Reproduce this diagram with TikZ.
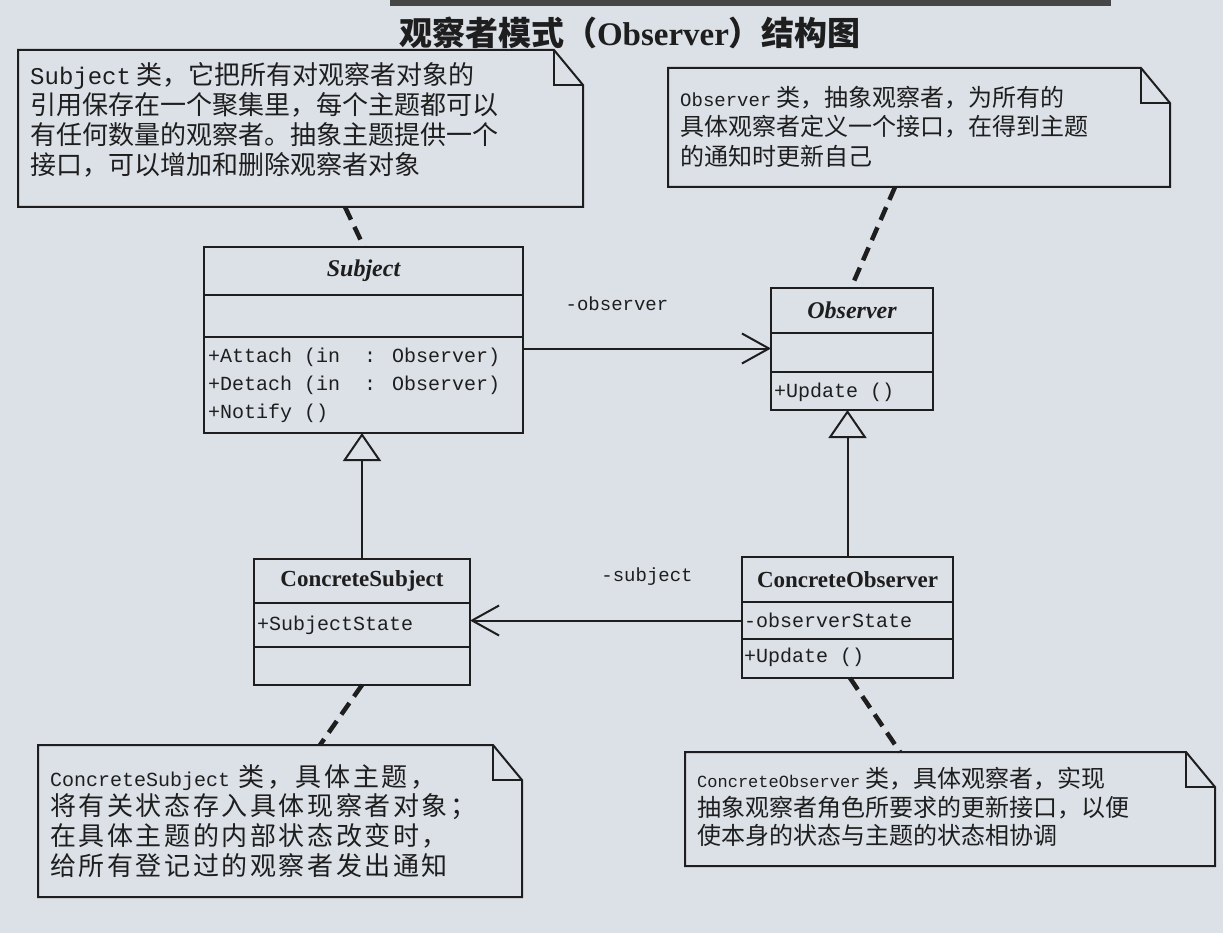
\documentclass[tikz,border=0pt]{standalone}
\usepackage{fontspec}
\setmainfont{Liberation Serif}
\newfontfamily\cjk{Noto Sans CJK SC}
\newfontfamily\cjksp{Noto Sans CJK SC}[LetterSpace=10]
\newfontfamily\mono{Liberation Mono}
\usetikzlibrary{arrows.meta,calc}
\definecolor{paper}{HTML}{DCE1E8}
\definecolor{ink}{HTML}{1E1E1E}
\newcommand\setfs[1]{\fontsize{#1}{#1}\selectfont}
\newcommand\notefold[1]{%
  \draw[noteline] (#1.north west) -- ($(#1.north east)+(-29,0)$) -- ($(#1.north east)+(0,35)$)
     -- (#1.south east) -- (#1.south west) -- cycle;
  \draw[noteline] ($(#1.north east)+(-29,0)$) -- ($(#1.north east)+(-29,35)$) -- ($(#1.north east)+(0,35)$);}
\begin{document}
\begin{tikzpicture}[x=1pt,y=-1pt,
  cbox/.style={draw=ink, line width=2.2pt, rectangle, inner sep=0pt, outer sep=0pt, anchor=north west},
  member/.style={anchor=west, inner sep=0pt, font={\mono\setfs{20}}, text=ink},
  cname/.style={font={\setfs{23}\bfseries}, text=ink},
  aname/.style={font={\setfs{24}\bfseries\itshape}, text=ink},
  notebody/.style={inner sep=0pt, outer sep=0pt, anchor=north west},
  noteline/.style={draw=ink, line width=2pt, line join=miter},
  notetext/.style={anchor=north west, inner sep=0pt, align=left, text=ink},
  dashl/.style={draw=ink, line width=4.5pt, dash pattern=on 14pt off 8pt},
  assoc/.style={draw=ink, line width=2pt, -{Straight Barb[length=27pt,width=30pt]}},
  gen/.style={draw=ink, line width=2pt, -{Triangle[open,length=28pt,width=38pt,fill=paper]}},
  lbl/.style={font={\mono\setfs{19}}, text=ink, inner sep=0pt}
]
\fill[paper] (0,0) rectangle (1223,933);
\useasboundingbox (0,0) rectangle (1223,933);
\fill[gray!55!black] (390,0) rectangle (1111,6);

% title
\node[text=ink] (title) at (630,33) {\cjk\bfseries\setfs{33}观察者模式（{\rmfamily\bfseries Observer}）结构图};

% Subject
\node[cbox, aname, minimum width=319pt, minimum height=48pt] (subjN) at (204,247) {Subject};
\node[cbox, minimum width=319pt, minimum height=42pt] (subjA) at (subjN.south west) {};
\node[cbox, minimum width=319pt, minimum height=96pt] (subjM) at (subjA.south west) {};
\node[member] (sm1) at (208,357) {+Attach (in\ \ : Observer)};
\node[member] (sm2) at (208,385) {+Detach (in\ \ : Observer)};
\node[member] (sm3) at (208,413) {+Notify ()};

% Observer
\node[cbox, aname, minimum width=162pt, minimum height=45pt] (obsN) at (771,288) {Observer};
\node[cbox, minimum width=162pt, minimum height=39pt] (obsA) at (obsN.south west) {};
\node[cbox, minimum width=162pt, minimum height=38pt] (obsM) at (obsA.south west) {};
\node[member] (om1) at (774,392) {+Update ()};

% ConcreteSubject
\node[cbox, cname, minimum width=216pt, minimum height=44pt] (csN) at (254,559) {ConcreteSubject};
\node[cbox, minimum width=216pt, minimum height=44pt] (csA) at (csN.south west) {};
\node[cbox, minimum width=216pt, minimum height=38pt] (csM) at (csA.south west) {};
\node[member] (csm1) at (257,625) {+SubjectState};

% ConcreteObserver
\node[cbox, cname, minimum width=211pt, minimum height=45pt] (coN) at (742,557) {ConcreteObserver};
\node[cbox, minimum width=211pt, minimum height=37pt] (coA) at (coN.south west) {};
\node[cbox, minimum width=211pt, minimum height=39pt] (coM) at (coA.south west) {};
\node[member] (com1) at (744,620) {-observerState};
\node[member] (com2) at (744,657) {+Update ()};

% notes
\node[notebody, minimum width=565pt, minimum height=157pt] (n1) at (18,50) {};
\node[notebody, minimum width=502pt, minimum height=119pt] (n2) at (668,68) {};
\node[notebody, minimum width=484pt, minimum height=152pt] (n3) at (38,745) {};
\node[notebody, minimum width=530pt, minimum height=114pt] (n4) at (685,752) {};
\notefold{n1}
\notefold{n2}
\notefold{n3}
\notefold{n4}

\node[notetext, font={\cjk\fontsize{26}{30}\selectfont}] (t1) at (30,62) {%
  {\mono\setfs{24}Subject} 类，它把所有对观察者对象的\\
  引用保存在一个聚集里，每个主题都可以\\
  有任何数量的观察者。抽象主题提供一个\\
  接口，可以增加和删除观察者对象};
\node[notetext, font={\cjk\fontsize{24}{29.5}\selectfont}] (t2) at (680,86) {%
  {\mono\setfs{19}Observer} 类，抽象观察者，为所有的\\
  具体观察者定义一个接口，在得到主题\\
  的通知时更新自己};
\node[notetext, font={\cjksp\fontsize{26}{29.7}\selectfont}] (t3) at (50,764) {%
  {\mono\setfs{20}ConcreteSubject} 类，具体主题，\\
  将有关状态存入具体现察者对象；\\
  在具体主题的内部状态改变时，\\
  给所有登记过的观察者发出通知};
\node[notetext, font={\cjk\fontsize{24}{28.5}\selectfont}] (t4) at (697,767) {%
  {\mono\setfs{17}ConcreteObserver} 类，具体观察者，实现\\
  抽象观察者角色所要求的更新接口，以便\\
  使本身的状态与主题的状态相协调};

% note anchors (dashed)
\draw[dashl] ($(n1.south west)+(327,0)$) -- ($(subjN.north west)+(160,0)$);
\draw[dashl] ($(n2.south west)+(227,0)$) -- ($(obsN.north west)+(80,0)$);
\draw[dashl] ($(csM.south west)+(108,0)$) -- ($(n3.north west)+(282,0)$);
\draw[dashl] ($(coM.south west)+(108,0)$) -- ($(n4.north west)+(215,0)$);

% associations
\draw[assoc] ($(obsA.west -| subjM.east)+(0,-4)$) -- ($(obsA.west)+(0,-4)$);
\node[lbl] (lobs) at (617,304) {-observer};
\draw[assoc] (coA.west) -- (coA.west -| csA.east);
\node[lbl] (lsub) at (647,577) {-subject};

% generalizations
\draw[gen] (csN.north) -- (csN.north |- subjM.south);
\draw[gen] (coN.north) -- (coN.north |- obsM.south);
\end{tikzpicture}
\end{document}
